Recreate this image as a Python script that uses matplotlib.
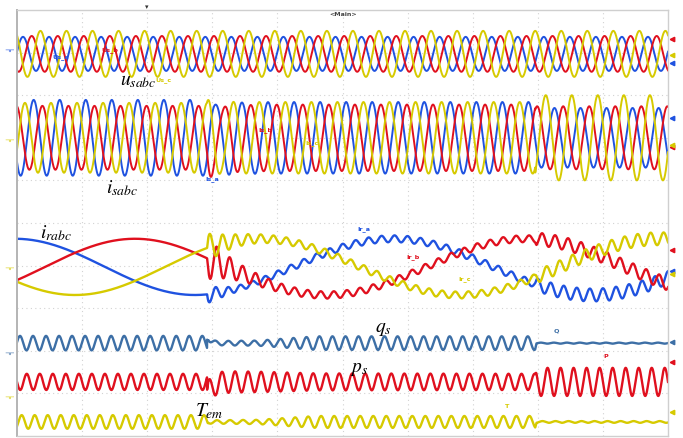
import numpy as np
import matplotlib
matplotlib.use("Agg")
import matplotlib.pyplot as plt

plt.rcParams["mathtext.fontset"] = "stix"

# ---- time base -------------------------------------------------------------
sec_per_div = 0.05          # 50 ms / div
n_div_x = 10
n_div_y = 10
t_step = 0.146              # rotor-side disturbance
t_switch = 0.398            # ripple suppression enabled
f_grid = 50.0
f_ripple = 100.0

# ---- stator voltage u_sabc (div) --------------------------------------------
us_offset = 8.97
us_amp = [0.40, 0.42, 0.54]                 # a, b, c
us_peak_t = [0.0046, 0.0113, 0.0180]

# ---- stator current i_sabc (div) --------------------------------------------
is_offset = 7.0
is_amp_before = [0.89, 0.75, 0.82]
is_amp_middle = [0.84, 0.78, 0.84]
is_amp_after = [0.70, 0.74, 1.00]
is_peak_t = [0.0128, 0.0195, 0.0061]
is_kick = [0.12, -0.20, 0.15]

# ---- rotor current i_rabc (div) ---------------------------------------------
ir_offset = 3.97
ir_amp = 0.66
ir_freq_before = 3.62
ir_freq_after = 3.26
ir_peak_t_a = -0.0015
ir_kick = [-0.25, -0.42, 0.30]
ir_env_t = [0.0, 0.146, 0.147, 0.398, 0.399, 0.5]
ir_ripple = [0.0, 0.0, 0.08, 0.08, 0.15, 0.15]

# ---- powers and torque (div) ------------------------------------------------
q_offset, p_offset, T_offset = 2.18, 1.27, 0.33
q_peak_t, p_peak_t, T_peak_t = 0.0023, 0.0075, 0.0036
env_t = [0.0, 0.146, 0.147, 0.185, 0.23, 0.398, 0.399, 0.5]
q_env = [0.17, 0.17, 0.05, 0.06, 0.16, 0.16, 0.012, 0.012]
p_env = [0.19, 0.19, 0.26, 0.24, 0.20, 0.19, 0.33, 0.33]
T_env = [0.16, 0.16, 0.04, 0.05, 0.14, 0.14, 0.02, 0.02]
p_dip = -0.30
q_spike = 0.20

# ---- colours ------------------------------------------------------------------
c_blue = "#1f52e0"
c_red = "#e0101e"
c_yel = "#d6ca00"
c_steel = "#3d6fa6"
phase_colors = [c_blue, c_red, c_yel]

# ---- figure -------------------------------------------------------------------
W, H = 683, 438
fig = plt.figure(figsize=(W / 100, H / 100), dpi=100)
ax = fig.add_axes([17 / W, 2 / H, 651 / W, 426 / H])
t_end = n_div_x * sec_per_div
ax.set_xlim(0, t_end)
ax.set_ylim(0, n_div_y)
ax.set_xticks([])
ax.set_yticks([])
for s in ax.spines.values():
    s.set_color("#cfcfcf")
    s.set_linewidth(1.0)
ax.spines["left"].set_color("#b4b4b4")
ax.spines["left"].set_linewidth(1.4)

for k in range(1, n_div_x):
    ax.axvline(k * sec_per_div, color="#d2d2d2", lw=0.8, ls=(0, (1, 3)), zorder=0)
for k in range(1, n_div_y):
    ax.axhline(k, color="#d2d2d2", lw=0.8, ls=(0, (1, 3)), zorder=0)

t = np.linspace(0, t_end, 6000)
w = 2 * np.pi * f_grid
wr = 2 * np.pi * f_ripple
dt = np.clip(t - t_step, 0, None)
on = (t >= t_step).astype(float)
damp = on * np.exp(-dt / 0.02)
damp_fast = on * np.exp(-dt / 0.012)
lw_s = 1.4
lw_r = 1.7

# stator voltages
for k in range(3):
    ax.plot(t, us_offset + us_amp[k] * np.cos(w * (t - us_peak_t[k])),
            color=phase_colors[k], lw=lw_s)

# stator currents
for k in range(3):
    amp = np.where(t < t_step, is_amp_before[k],
                   np.where(t < t_switch, is_amp_middle[k], is_amp_after[k]))
    y = (is_offset + amp * np.cos(w * (t - is_peak_t[k]))
         + is_kick[k] * damp_fast * np.sin(wr * dt))
    ax.plot(t, y, color=phase_colors[k], lw=lw_s)

# rotor currents
theta = np.where(t < t_step,
                 2 * np.pi * ir_freq_before * (t - ir_peak_t_a),
                 2 * np.pi * ir_freq_before * (t_step - ir_peak_t_a)
                 + 2 * np.pi * ir_freq_after * dt)
rip = np.interp(t, ir_env_t, ir_ripple)
for k in range(3):
    sh = k * 2 * np.pi / 3
    y = (ir_offset + ir_amp * np.cos(theta - sh)
         + rip * np.cos(wr * t - sh)
         + ir_kick[k] * damp * np.sin(wr * dt))
    ax.plot(t, y, color=phase_colors[k], lw=lw_r)

# reactive power, active power, torque
q = (q_offset + np.interp(t, env_t, q_env) * np.cos(wr * (t - q_peak_t))
     + q_spike * on * np.exp(-dt / 0.002))
p = (p_offset + np.interp(t, env_t, p_env) * np.cos(wr * (t - p_peak_t))
     + p_dip * on * np.exp(-dt / 0.004))
Te = T_offset + np.interp(t, env_t, T_env) * np.cos(wr * (t - T_peak_t))
ax.plot(t, q, color=c_steel, lw=lw_r)
ax.plot(t, p, color=c_red, lw=lw_r)
ax.plot(t, Te, color=c_yel, lw=lw_r)


def px(x, y):
    return x / W, 1 - y / H


# channel names (scope annotations)
small = [("Us_a", 61, 57, c_blue), ("Us_b", 110, 50, c_red), ("Us_c", 163, 80, c_yel),
         ("Is_b", 265, 130, c_red), ("Is_a", 212, 179, c_blue), ("Is_c", 312, 143, c_yel),
         ("Ir_a", 364, 229, c_blue), ("Ir_b", 413, 257, c_red), ("Ir_c", 465, 279, c_yel),
         ("Q", 556, 331, c_steel), ("P", 606, 357, c_red), ("T", 507, 407, c_yel)]
for txt, x, y, c in small:
    fig.text(*px(x, y), txt, color=c, fontsize=4.6, fontweight="bold",
             ha="center", va="center")

# signal names
big = [(r"$u_{sabc}$", 138, 80), (r"$i_{sabc}$", 122, 188), (r"$i_{rabc}$", 56, 233),
       (r"$q_s$", 383, 329), (r"$p_s$", 359, 368), (r"$T_{em}$", 209, 411)]
for txt, x, y in big:
    fig.text(*px(x, y), txt, color="black", fontsize=14, ha="center", va="center")

fig.text(*px(343, 15), "<Main>", color="#444444", fontsize=4.5, fontweight="bold",
         ha="center", va="center")
fig.text(*px(147, 7), "\u25BE", color="#333333", fontsize=5, ha="center", va="center")

# channel level markers on the right edge
right_marks = [(39, c_red), (55, c_yel), (63, c_blue), (118, c_blue), (147, c_red),
               (145, c_yel), (250, c_red), (271, c_blue), (274, c_yel),
               (342, c_steel), (362, c_red), (412, c_yel)]
for y, c in right_marks:
    fig.lines.append(plt.Line2D([672 / W], [1 - y / H], transform=fig.transFigure,
                                marker="<", markersize=3.2, color=c, lw=0))

# ground markers on the left edge
left_marks = [(50, c_blue), (140, c_yel), (268, c_yel), (353, c_steel), (397, c_yel)]
for y, c in left_marks:
    fig.text(*px(11, y), "\u2561", color=c, fontsize=5, ha="center", va="center",
             rotation=90)

fig.savefig("out.png", dpi=100)
